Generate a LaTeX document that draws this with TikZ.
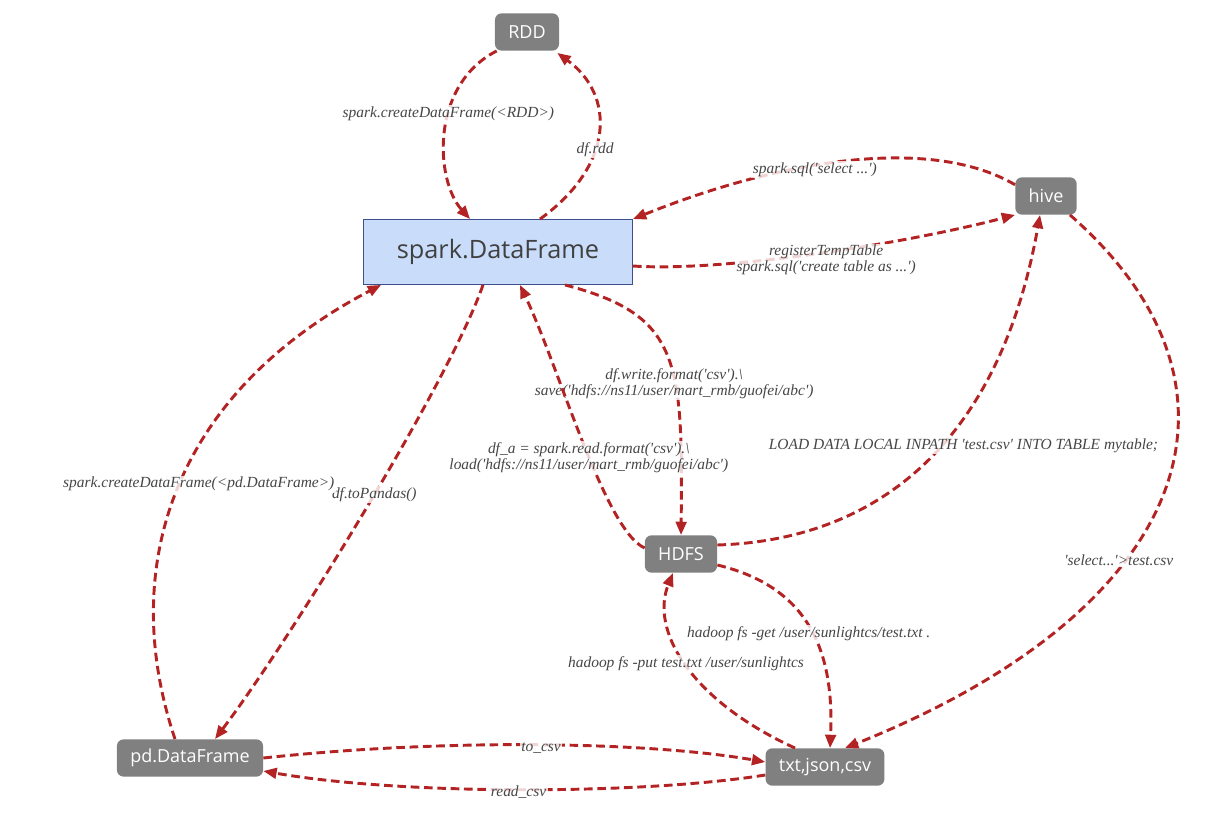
\documentclass[tikz,border=0pt]{standalone}
\usepackage{fontspec}
\setsansfont{Open Sans}
\newfontfamily\lblfont{Liberation Serif}
\usetikzlibrary{arrows.meta,calc}
\definecolor{edgered}{RGB}{180,35,35}
\definecolor{boxgray}{RGB}{128,128,128}
\definecolor{sdffill}{RGB}{201,220,250}
\definecolor{sdfline}{RGB}{60,80,140}
\definecolor{lbltext}{RGB}{70,70,70}
\newcommand{\sq}{\textquotesingle}

\begin{document}
\begin{tikzpicture}[x=0.75pt,y=-0.75pt,
  box/.style={fill=boxgray,rounded corners=5pt,text=white,font=\sffamily\fontsize{13.5}{16}\selectfont,minimum height=28pt,inner xsep=10pt},
  flow/.style={-{Triangle[length=10pt,width=8pt]},draw=edgered,line width=2.2pt,dash pattern=on 6.5pt off 3.5pt},
  lbl/.style={font=\lblfont\itshape\fontsize{11.6}{12}\selectfont,text=lbltext,align=center,fill=white,fill opacity=0.8,text opacity=1,inner sep=1pt}]
  \useasboundingbox (0,0) rectangle (1211,823);
  % nodes
  \node[box] (rdd) at (527,32) {RDD};
  \node[draw=sdfline,fill=sdffill,text=black!75,font=\sffamily\fontsize{19}{22}\selectfont,minimum width=202pt,minimum height=49pt] (sdf) at (498,252) {spark.DataFrame};
  \node[box] (hive) at (1046,196) {hive};
  \node[box] (hdfs) at (681,554) {HDFS};
  \node[box] (pd) at (190,758) {pd.DataFrame};
  \node[box] (txt) at (825,767) {txt,json,csv};
  % RDD
  \draw[flow] ($(rdd.south west)+(2,0)$) .. controls (430,85) and (435,180) .. ($(sdf.north)+(-28,0)$) node[lbl,pos=0.4]{spark.createDataFrame(<RDD>)};
  \draw[flow] ($(sdf.north)+(42,0)$) .. controls (615,165) and (615,95) .. ($(rdd.south east)+(-2,2)$) node[lbl,pos=0.4]{df.rdd};
  % hive
  \draw[flow] (hive.160) .. controls (930,135) and (780,160) .. (sdf.north east) node[lbl,pos=0.58,yshift=-3pt]{spark.sql(\sq{}select ...\sq{})};
  \draw[flow] ($(sdf.east)+(0,14)$) .. controls (720,272) and (900,245) .. (hive.south west) node[lbl,pos=0.53,yshift=-6pt]{registerTempTable\\spark.sql(\sq{}create table as ...\sq{})};
  \draw[flow] ($(hive.south east)+(-7,0)$) .. controls (1270,390) and (1190,610) .. ($(txt.north)+(20,0)$) node[lbl,pos=0.61,xshift=-6pt,yshift=-3pt]{\sq{}select...\sq{}>test.csv};
  % HDFS
  \draw[flow] ($(sdf.south)+(67,0)$) .. controls (680,315) and (683,360) .. (hdfs.north) node[lbl,pos=0.6,yshift=-3pt]{df.write.format(\sq{}csv\sq{}).\textbackslash\\save(\sq{}hdfs://ns11/user/mart\_rmb/guofei/abc\sq{})};
  \draw[flow] ($(hdfs.west)+(0,-6)$) .. controls (605,530) and (560,370) .. ($(sdf.south)+(22,0)$) node[lbl,pos=0.45]{df\_a = spark.read.format(\sq{}csv\sq{}).\textbackslash\\load(\sq{}hdfs://ns11/user/mart\_rmb/guofei/abc\sq{})};
  \draw[flow] ($(hdfs.east)+(0,-9)$) .. controls (880,540) and (1000,440) .. ($(hive.south)+(-6,0)$) node[lbl,pos=0.55,xshift=17pt]{LOAD DATA LOCAL INPATH \sq{}test.csv\sq{} INTO TABLE mytable;};
  \draw[flow] ($(hdfs.east)+(0,11)$) .. controls (800,585) and (835,640) .. ($(txt.north)+(5,0)$) node[lbl,pos=0.52,yshift=-5pt]{hadoop fs -get /user/sunlightcs/test.txt .};
  \draw[flow] ($(txt.north)+(-30,0)$) .. controls (690,700) and (650,630) .. ($(hdfs.south)+(-8,0)$) node[lbl,pos=0.5]{hadoop fs -put test.txt /user/sunlightcs};
  % pandas
  \draw[flow] ($(sdf.south)+(-15,0)$) .. controls (450,380) and (290,640) .. ($(pd.north)+(25,0)$) node[lbl,pos=0.47]{df.toPandas()};
  \draw[flow] ($(pd.north)+(-15,0)$) .. controls (115,560) and (180,390) .. ($(sdf.south west)+(18,0)$) node[lbl,pos=0.5,xshift=14pt]{spark.createDataFrame(<pd.DataFrame>)};
  \draw[flow] (pd.east) .. controls (450,738) and (650,742) .. ($(txt.west)+(0,-5)$) node[lbl,pos=0.5,yshift=-2pt]{to\_csv};
  \draw[flow] ($(txt.west)+(0,8)$) .. controls (640,795) and (400,795) .. ($(pd.east)+(0,13)$) node[lbl,pos=0.5,yshift=-2pt]{read\_csv};
\end{tikzpicture}
\end{document}
